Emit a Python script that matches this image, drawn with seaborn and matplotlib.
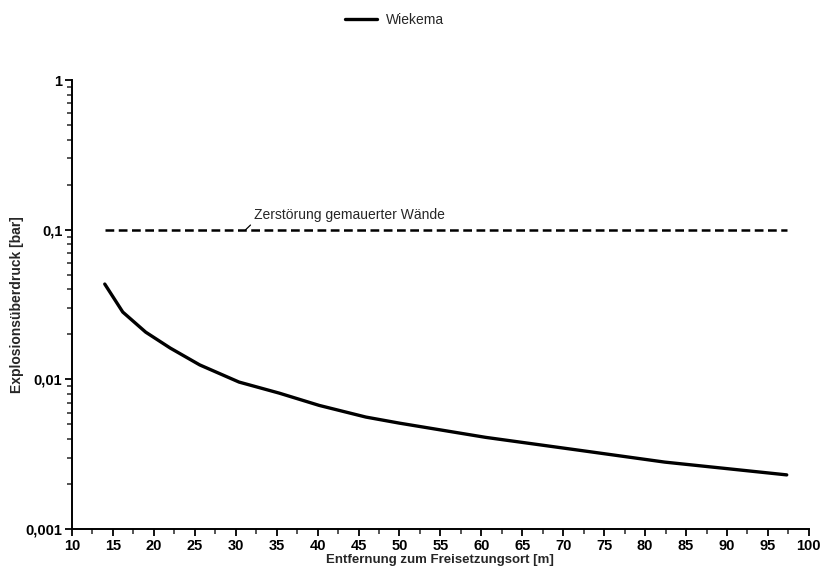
import numpy as np
import pandas as pd
import matplotlib
matplotlib.use('Agg')
import matplotlib.pyplot as plt
import matplotlib.ticker as mticker
import seaborn as sns

# Daten
entfernung = [14, 16.2, 19, 22, 25.6, 30.4, 35.3, 40.2, 45.9, 50, 60.5, 73, 82.4, 97.3]
ueberdruck = [0.0434, 0.0282, 0.0207, 0.0162, 0.0125, 0.0096, 0.0081, 0.0067, 0.0056, 0.0051,
              0.0041, 0.0033, 0.0028, 0.0023]
grenz_x = [14, 97.3]
grenz_y = [0.1, 0.1]

df = pd.DataFrame({'x': entfernung, 'y': ueberdruck})

sns.set_theme(style='ticks')
plt.rcParams['font.family'] = ['Liberation Sans', 'DejaVu Sans']

fig = plt.figure(figsize=(8.22, 5.69), dpi=100)
ax = fig.add_axes([0.0876, 0.0703, 0.8964, 0.7887])

sns.lineplot(data=df, x='x', y='y', ax=ax, color='black', linewidth=2.4, label='Wiekema')
ax.plot(grenz_x, grenz_y, color='black', linewidth=1.8, linestyle=(0, (3.5, 1.8)))

ax.annotate('Zerstörung gemauerter Wände', xy=(31.2, 0.1), xytext=(32.2, 0.113),
            fontsize=10, ha='left', va='bottom',
            arrowprops=dict(arrowstyle='-', color='black', lw=0.9, shrinkA=0, shrinkB=0,
                            relpos=(0, 0)))

ax.set_yscale('log')
ax.set_xlim(10, 100)
ax.set_ylim(0.001, 1)
ax.xaxis.set_major_locator(mticker.MultipleLocator(5))
ax.xaxis.set_minor_locator(mticker.MultipleLocator(2.5))
ax.yaxis.set_major_locator(mticker.FixedLocator([0.001, 0.01, 0.1, 1]))
ax.yaxis.set_major_formatter(mticker.FixedFormatter(['0,001', '0,01', '0,1', '1']))
ax.yaxis.set_minor_locator(mticker.LogLocator(base=10, subs=np.arange(2, 10)))
ax.yaxis.set_minor_formatter(mticker.NullFormatter())

ax.tick_params(axis='both', which='major', length=5, width=1.3, labelsize=10.5, colors='black', pad=2)
ax.tick_params(axis='both', which='minor', length=3.5, width=1.1)
for lab in ax.get_xticklabels() + ax.get_yticklabels():
    lab.set_fontweight('bold')

ax.set_xlabel('Entfernung zum Freisetzungsort [m]', fontsize=9.5, fontweight='bold', labelpad=1)
ax.set_ylabel('Explosionsüberdruck [bar]', fontsize=10, fontweight='bold', labelpad=1)

for s in ['top', 'right']:
    ax.spines[s].set_visible(False)
for s in ['left', 'bottom']:
    ax.spines[s].set_linewidth(1.4)
    ax.spines[s].set_color('black')

ax.legend(loc='upper center', bbox_to_anchor=(0.48, 1.0), bbox_transform=fig.transFigure,
          frameon=False, fontsize=10, handlelength=2.3, handletextpad=0.6)

fig.savefig('out.png', dpi=100)
